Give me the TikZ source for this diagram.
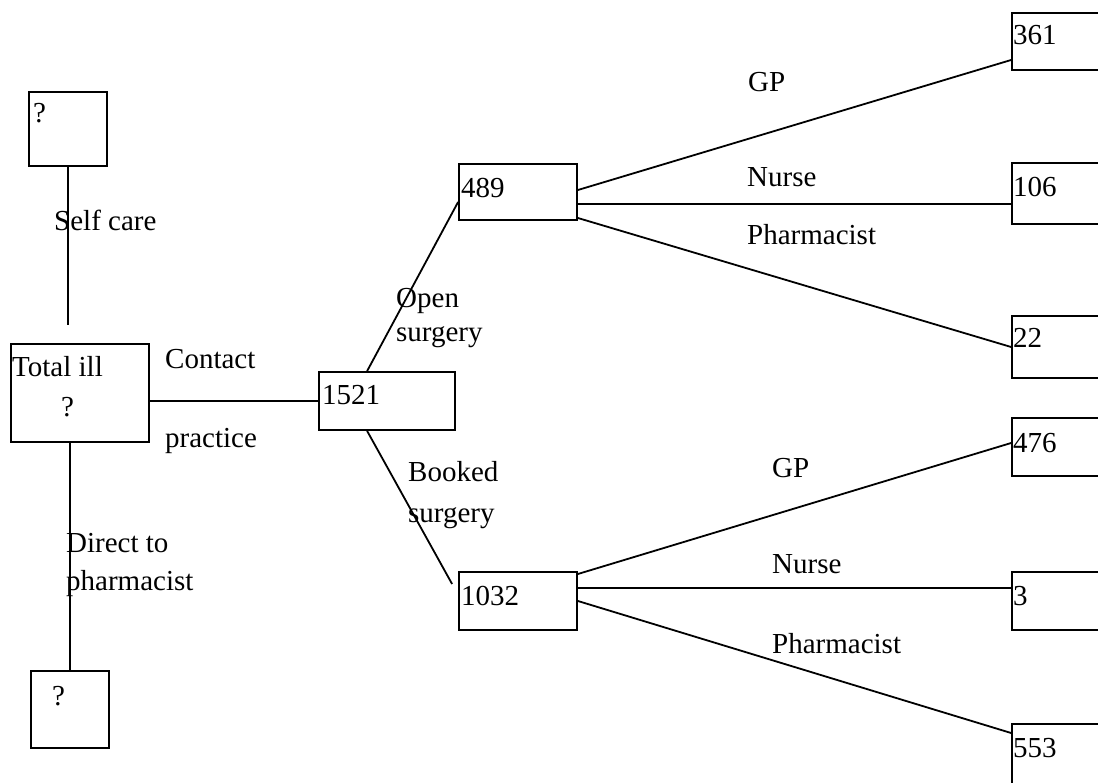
\documentclass[tikz,border=0pt]{standalone}
\usepackage{fontspec}
\setmainfont{Liberation Serif}
\begin{document}
\begin{tikzpicture}[x=1pt,y=-1pt,
  every node/.style={font=\fontsize{29pt}{34pt}\selectfont},
  box/.style={draw, line width=1.8pt, rectangle, inner sep=0pt},
  lbl/.style={anchor=base west, inner sep=0pt},
  conn/.style={line width=1.8pt}]
\useasboundingbox (0,0) rectangle (1098,783);
\clip (0,0) rectangle (1098,783);
% boxes
\node[box, minimum width=78pt, minimum height=74pt] (qtop) at (68,129) {};
\node[box, minimum width=138pt, minimum height=98pt] (total) at (80,393) {};
\node[box, minimum width=78pt, minimum height=77pt] (qbot) at (70,709.5) {};
\node[box, minimum width=136pt, minimum height=58pt] (n1521) at (387,401) {};
\node[box, minimum width=118pt, minimum height=56pt] (n489) at (518,192) {};
\node[box, minimum width=118pt, minimum height=58pt] (n1032) at (518,601) {};
\node[box, minimum width=100pt, minimum height=57pt] (n361) at (1062,41.5) {};
\node[box, minimum width=100pt, minimum height=61pt] (n106) at (1062,193.5) {};
\node[box, minimum width=100pt, minimum height=62pt] (n22) at (1062,347) {};
\node[box, minimum width=100pt, minimum height=58pt] (n476) at (1062,447) {};
\node[box, minimum width=100pt, minimum height=58pt] (n3) at (1062,601) {};
\node[box, minimum width=100pt, minimum height=76pt] (n553) at (1062,762) {};
% box texts
\node[lbl] (tqtop) at (33,123) {?};
\node[lbl] (ttotal) at (12,377) {Total ill};
\node[lbl] (ttotalq) at (61,417) {?};
\node[lbl] (tqbot) at (52,705) {?};
\node[lbl] (t1521) at (322,405) {1521};
\node[lbl] (t489) at (461,198) {489};
\node[lbl] (t1032) at (461,605) {1032};
\node[lbl] (t361) at (1013,45) {361};
\node[lbl] (t106) at (1013,197) {106};
\node[lbl] (t22) at (1013,348) {22};
\node[lbl] (t476) at (1013,453) {476};
\node[lbl] (t3) at (1013,605) {3};
\node[lbl] (t553) at (1013,757) {553};
% connectors
\coordinate (selfend) at (67,325);
\draw[conn] (qtop.south) -- (qtop.south |- selfend);
\draw[conn] (qbot.north |- total.south) -- (qbot.north);
\draw[conn] ([yshift=-8pt]total.east) -- (n1521.west);
\draw[conn] ([xshift=49pt]n1521.north west) -- ([yshift=-10pt]n489.west);
\draw[conn] ([xshift=49pt]n1521.south west) -- ([xshift=-6pt,yshift=17pt]n1032.west);
\draw[conn] ([yshift=2pt]n489.east) -- ([yshift=-18.5pt]n361.west);
\draw[conn] ([yshift=-12pt]n489.east) -- ([yshift=-10.5pt]n106.west);
\draw[conn] ([yshift=-26pt]n489.east) -- (n22.west);
\draw[conn] ([yshift=27pt]n1032.east) -- ([yshift=4pt]n476.west);
\draw[conn] ([yshift=13pt]n1032.east) -- ([yshift=13pt]n3.west);
\draw[conn] (n1032.east) -- ([yshift=29pt]n553.west);
% connector labels
\node[lbl] (lself) at (54,231) {Self care};
\node[lbl] (lcontact) at (165,369) {Contact};
\node[lbl] (lpractice) at (165,448) {practice};
\node[lbl] (ldirect) at (66,552) {Direct to};
\node[lbl] (lpharm) at (66,590) {pharmacist};
\node[lbl] (lopen) at (396,308) {Open};
\node[lbl] (lsurg1) at (396,342) {surgery};
\node[lbl] (lbooked) at (408,481) {Booked};
\node[lbl] (lsurg2) at (408,522) {surgery};
\node[lbl] (lgp1) at (748,92) {GP};
\node[lbl] (lnurse1) at (747,187) {Nurse};
\node[lbl] (lph1) at (747,245) {Pharmacist};
\node[lbl] (lgp2) at (772,477) {GP};
\node[lbl] (lnurse2) at (772,573) {Nurse};
\node[lbl] (lph2) at (772,653) {Pharmacist};
\end{tikzpicture}
\end{document}
